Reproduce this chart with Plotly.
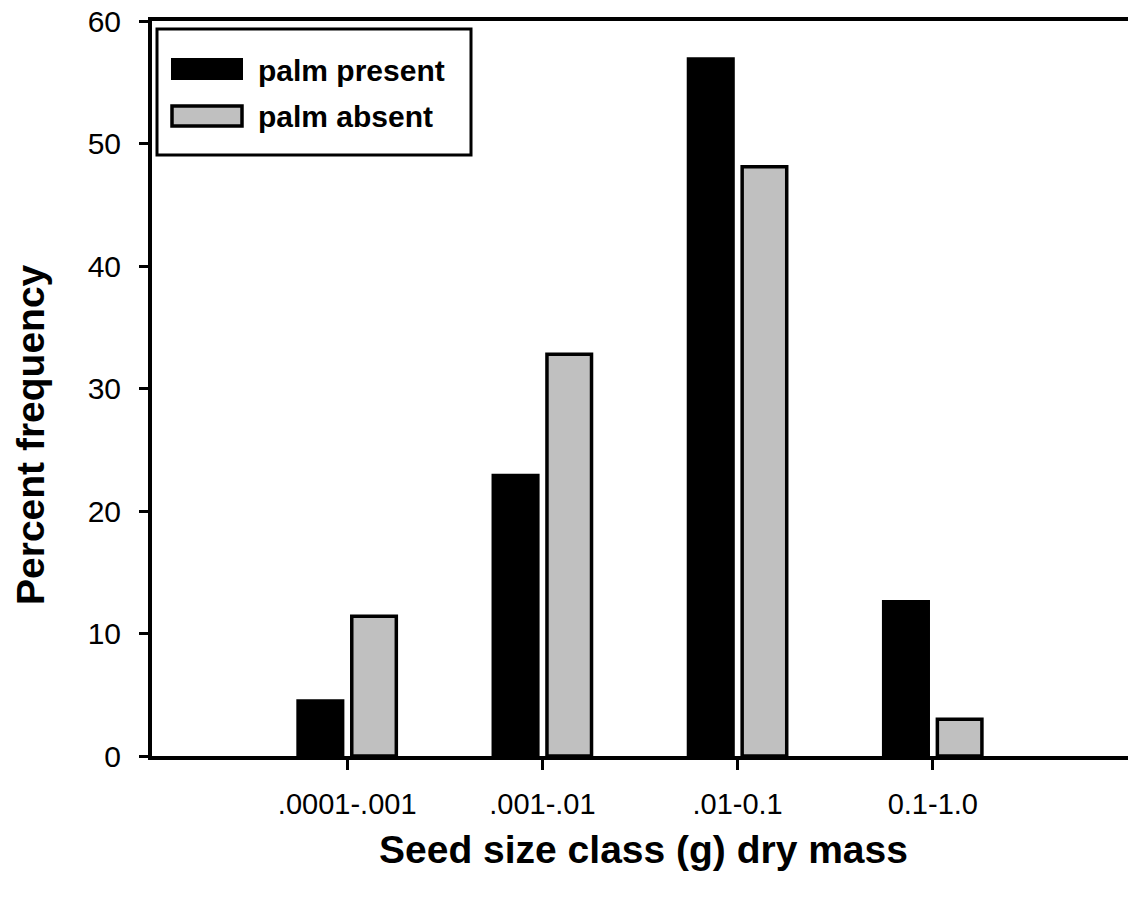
import plotly.graph_objects as go

# ---- data ----
categories = [".0001-.001", ".001-.01", ".01-0.1", "0.1-1.0"]
palm_present = [4.5, 22.9, 56.9, 12.6]
palm_absent = [11.4, 32.8, 48.1, 3.0]
series_names = ["palm present", "palm absent"]
y_tick_vals = [0, 10, 20, 30, 40, 50, 60]

# ---- layout geometry (on-screen pixels; body margin removed below) ----
W, H = 1128, 906
PLOT_L, PLOT_R, PLOT_T, PLOT_B = 152, 1128, 21, 756
L, R, T, B = PLOT_L, W - PLOT_R, PLOT_T, H - PLOT_B
PW, PH = W - L - R, H - T - B
FONT = "Liberation Sans, Arial, Helvetica, sans-serif"


def px(x):
    return (x - PLOT_L) / PW


def py(y):
    return (PLOT_B - y) / PH


fig = go.Figure()
fig.add_trace(go.Bar(
    x=categories, y=palm_present, name=series_names[0],
    marker=dict(color="#000000", line=dict(color="#000000", width=3.5)),
    showlegend=False,
))
fig.add_trace(go.Bar(
    x=categories, y=palm_absent, name=series_names[1],
    marker=dict(color="#c0c0c0", line=dict(color="#000000", width=3.5)),
    showlegend=False,
))

# manual legend (box, swatches, labels)
shapes = [
    dict(type="rect", xref="paper", yref="paper",
         x0=px(157), x1=px(471), y0=py(155), y1=py(29),
         line=dict(color="black", width=3), fillcolor="white", layer="above"),
    dict(type="rect", xref="paper", yref="paper",
         x0=px(172), x1=px(242), y0=py(79), y1=py(59),
         line=dict(color="black", width=2), fillcolor="black", layer="above"),
    dict(type="rect", xref="paper", yref="paper",
         x0=px(172), x1=px(242), y0=py(126), y1=py(106),
         line=dict(color="black", width=3.5), fillcolor="#c0c0c0", layer="above"),
]
annotations = [
    dict(text="<b>" + series_names[0] + "</b>", xref="paper", yref="paper",
         x=px(256), y=py(71), xanchor="left", yanchor="middle", showarrow=False,
         font=dict(family=FONT, size=30, color="black")),
    dict(text="<b>" + series_names[1] + "</b>", xref="paper", yref="paper",
         x=px(256), y=py(116), xanchor="left", yanchor="middle", showarrow=False,
         font=dict(family=FONT, size=30, color="black")),
    dict(text="<b>Percent frequency</b>", xref="paper", yref="paper",
         x=px(30), y=py(435), xanchor="center", yanchor="middle",
         textangle=-90, showarrow=False,
         font=dict(family=FONT, size=39, color="black")),
    dict(text="<b>Seed size class (g) dry mass</b>", xref="paper", yref="paper",
         x=px(643), y=py(849), xanchor="center", yanchor="middle",
         showarrow=False,
         font=dict(family=FONT, size=39, color="black")),
]

fig.update_layout(
    width=W, height=H,
    margin=dict(l=L, r=R, t=T, b=B, pad=0, autoexpand=False),
    paper_bgcolor="white", plot_bgcolor="white",
    barmode="group", bargap=0.45, bargroupgap=0.17,
    font=dict(family=FONT, color="black"),
    shapes=shapes, annotations=annotations,
    showlegend=False,
)
fig.update_xaxes(
    type="category", range=[-1.0, 4.0],
    showline=True, linecolor="black", linewidth=4, mirror=True,
    ticks="outside", ticklen=10, tickwidth=3, tickcolor="black",
    tickfont=dict(family=FONT, size=29, color="black"),
    ticklabelstandoff=9, ticklabeloverflow="allow",
    showgrid=False, zeroline=False,
)
fig.update_yaxes(
    range=[0, 60], tickvals=y_tick_vals,
    showline=True, linecolor="black", linewidth=4, mirror=False,
    ticks="outside", ticklen=9, tickwidth=3, tickcolor="black",
    tickfont=dict(family=FONT, size=30, color="black"),
    ticklabelstandoff=12, ticklabeloverflow="allow",
    showgrid=False, zeroline=False,
)

fig.write_html(
    "out.html",
    config={"displayModeBar": False},
    post_script="document.body.style.margin='0px';",
)
